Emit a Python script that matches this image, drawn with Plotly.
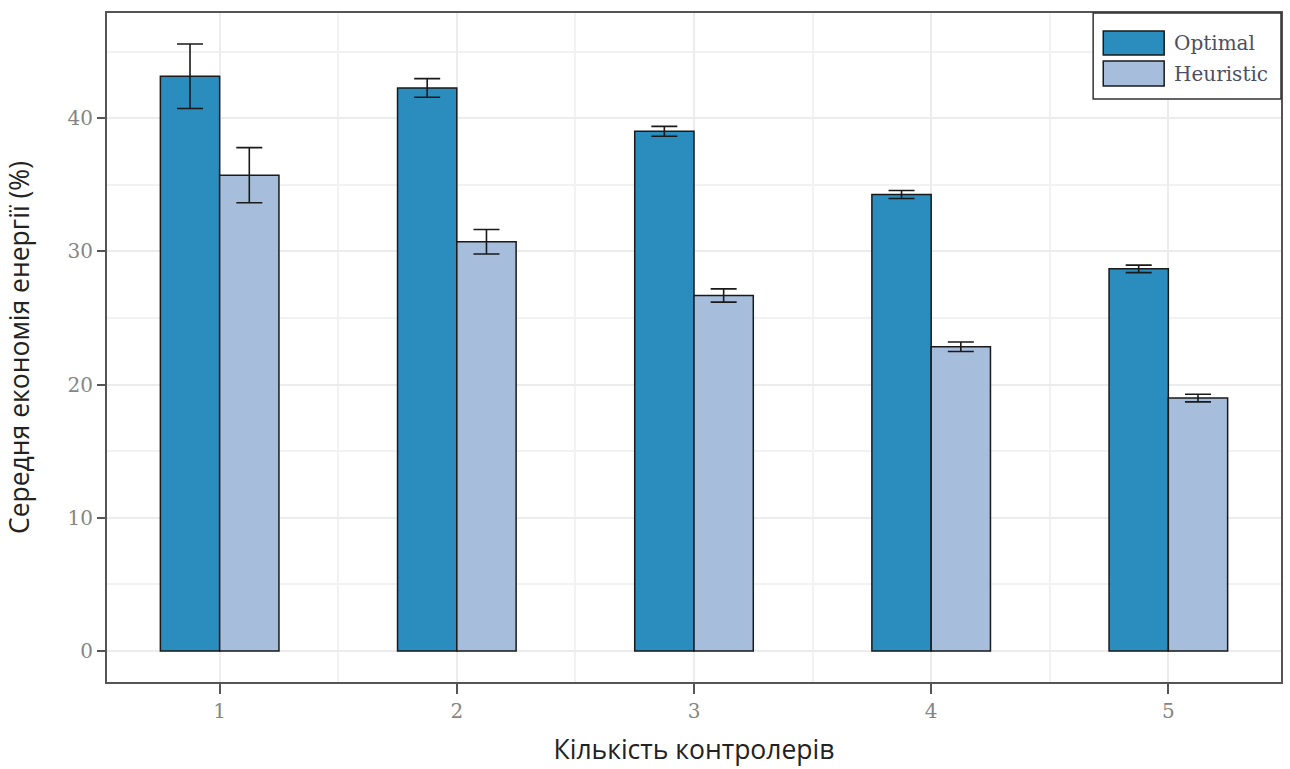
import plotly.graph_objects as go

# Number of controllers
controllers = [1, 2, 3, 4, 5]
tick_labels = ["1", "2", "3", "4", "5"]

# Mean energy savings (%) and their error margins
optimal = [43.15, 42.27, 39.02, 34.27, 28.69]
optimal_err = [2.42, 0.70, 0.37, 0.30, 0.28]
heuristic = [35.72, 30.72, 26.69, 22.84, 18.99]
heuristic_err = [2.07, 0.92, 0.50, 0.36, 0.29]

series_names = ["Optimal", "Heuristic"]
series_colors = ["#2b8cbe", "#a6bddb"]

bar_line = dict(color="#1a1a1a", width=1.5)
err_style = dict(type="data", thickness=1.6, width=13, color="#1a1a1a")

fig = go.Figure()
for name, vals, errs, col in zip(series_names, [optimal, heuristic],
                                 [optimal_err, heuristic_err], series_colors):
    fig.add_trace(go.Bar(
        name=name, x=controllers, y=vals,
        error_y=dict(array=errs, **err_style),
        marker=dict(color=col, line=bar_line),
        showlegend=False,
    ))

# Legend box in the upper-right corner of the panel, with wide swatches
legend_shapes = [dict(type="rect", xref="paper", yref="paper",
                      x0=0.840, x1=1.0, y0=0.8714, y1=1.0,
                      fillcolor="white", line=dict(color="#333333", width=1.5),
                      layer="above")]
legend_texts = []
swatch_rows = [(0.9731, 0.9372), (0.9282, 0.8909)]
for (y_top, y_bot), name, col in zip(swatch_rows, series_names, series_colors):
    legend_shapes.append(dict(type="rect", xref="paper", yref="paper",
                              x0=0.8486, x1=0.9005, y0=y_bot, y1=y_top,
                              fillcolor=col, line=dict(color="#1a1a1a", width=1.5),
                              layer="above"))
    legend_texts.append(dict(xref="paper", yref="paper", x=0.9075,
                             y=(y_top + y_bot) / 2, xanchor="left", yanchor="middle",
                             text=name, showarrow=False,
                             font=dict(family="DejaVu Serif", size=20, color="#4b4f63")))

tick_font = dict(family="DejaVu Serif", size=20, color="#858585")

fig.update_layout(
    width=1290, height=769,
    margin=dict(l=107, r=7, t=13, b=87),
    paper_bgcolor="white", plot_bgcolor="white",
    barmode="group", bargap=0.5, bargroupgap=0,
    showlegend=False,
    shapes=legend_shapes,
    annotations=legend_texts,
    font=dict(family="Open Sans", color="#222222"),
)

fig.update_xaxes(
    range=[0.525, 5.475],
    tickmode="array", tickvals=controllers, ticktext=tick_labels,
    tickfont=tick_font,
    ticks="outside", ticklen=10, tickwidth=2, tickcolor="#555555",
    showline=True, linecolor="#555555", linewidth=2, mirror=True,
    showgrid=True, gridcolor="#ececec", gridwidth=1.5,
    minor=dict(dtick=0.5, tick0=0.5, showgrid=True, gridcolor="#f2f2f2", gridwidth=1.5, ticks=""),
    title=dict(text="Кількість контролерів", font=dict(family="Open Sans", size=26.5, color="#222222"), standoff=18),
    zeroline=False,
)
fig.update_yaxes(
    range=[-2.33, 47.9],
    tickmode="array", tickvals=[0, 10, 20, 30, 40],
    tickfont=tick_font,
    ticks="outside", ticklen=8, tickwidth=2, tickcolor="#555555",
    showline=True, linecolor="#555555", linewidth=2, mirror=True,
    showgrid=True, gridcolor="#ececec", gridwidth=1.5,
    minor=dict(dtick=5, tick0=5, showgrid=True, gridcolor="#f2f2f2", gridwidth=1.5, ticks=""),
    title=dict(text="Середня економія енергії (%)", font=dict(family="Open Sans", size=26.5, color="#222222"), standoff=30),
    zeroline=False,
)

fig.write_html("out.html")
